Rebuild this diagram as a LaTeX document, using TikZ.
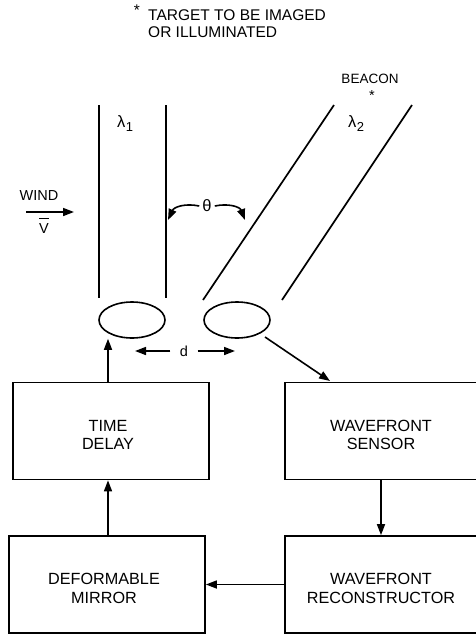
\documentclass[tikz,border=0pt]{standalone}
\usepackage{fontspec}
\setmainfont{Liberation Sans}
\usetikzlibrary{arrows.meta,shapes.geometric}
\newcommand{\lamsub}[1]{λ\hspace{0.5pt}\raisebox{-4pt}{\fontsize{13}{13}\selectfont #1}}
\begin{document}
\begin{tikzpicture}[x=1pt,y=-1pt,
  box/.style={draw,line width=1.7pt,minimum width=196pt,minimum height=97pt,inner sep=0pt},
  boxtext/.style={align=center,font=\fontsize{16.2}{18.7}\selectfont,inner sep=0pt},
  lens/.style={draw,ellipse,line width=1.6pt,minimum width=66pt,minimum height=36pt,inner sep=0pt},
  beam/.style={line width=1.7pt},
  arr/.style={line width=1.6pt,-{Triangle[length=11pt,width=8pt]}},
  lbl/.style={font=\fontsize{14.5}{16.7}\selectfont,inner sep=0pt},
  greek/.style={font=\fontsize{16.5}{18}\selectfont,inner sep=0pt},
  toplbl/.style={font=\fontsize{15.5}{17.5}\selectfont,inner sep=0pt}]
\useasboundingbox (0,0) rectangle (475,635);
% top note
\node[toplbl] (star) at (137,10) {*};
\node[toplbl,anchor=north west,align=left] (target) at (148,9) {TARGET TO BE IMAGED\\OR ILLUMINATED};
% beacon
\node[font=\fontsize{13.5}{16}\selectfont,inner sep=0pt] (beacon) at (370,79) {BEACON};
\node[lbl] (bstar) at (372,96) {*};
% beams
\draw[beam] (99,105) -- (99,298);
\draw[beam] (166,105) -- (166,298);
\draw[beam] (334,105) -- (203,300);
\draw[beam] (412,105) -- (282,300);
\node[greek] (l1) at (125,124) {\lamsub{1}};
\node[greek] (l2) at (356,124) {\lamsub{2}};
% theta
\node[greek,inner sep=3pt] (th) at (207,206) {θ};
\coordinate (thl) at (168,220);
\coordinate (thr) at (245,220);
\draw[arr] (th.west) .. controls (185,203) and (174,207) .. (thl);
\draw[arr] (th.east) .. controls (229,203) and (240,207) .. (thr);
% wind
\node[lbl] (wind) at (39,196) {WIND};
\coordinate (w1) at (26,212);
\coordinate (w2) at (74,212);
\draw[arr] (w1) -- (w2);
\node[lbl,anchor=base] (v) at (44,233) {$\overline{\rule{0pt}{13pt}\mbox{V}}$};
% lenses
\node[lens] (L) at (132,320) {};
\node[lens] (R) at (237,320) {};
% d
\node[lbl,inner sep=0pt,minimum width=27pt] (d) at (184,351) {d};
\coordinate (dl) at (135,351);
\coordinate (dr) at (235,351);
\draw[arr] (d.west) -- (dl);
\draw[arr] (d.east) -- (dr);
% boxes
\node[box] (TD) at (111,431) {};
\node[box,minimum width=192pt] (WS) at (381,431) {};
\node[box] (DM) at (107,584.5) {};
\node[box,minimum width=192pt] (WR) at (381,584.5) {};
\node[boxtext] (TDt) at (108,435) {TIME\\DELAY};
\node[boxtext] (WSt) at (381,435) {WAVEFRONT\\SENSOR};
\node[boxtext] (DMt) at (104,588.5) {DEFORMABLE\\MIRROR};
\node[boxtext] (WRt) at (381,588.5) {WAVEFRONT\\RECONSTRUCTOR};
% connectors
\coordinate (rs) at (265,337);
\coordinate (wsin) at (330,381);
\draw[arr] (rs) -- (wsin);
\draw[arr] (TD.north -| DM.north) ++(1,0) coordinate (tdn) -- (tdn |- L.south);
\draw[arr] (DM.north) ++(1,0) coordinate (dmn) -- (dmn |- TD.south);
\draw[arr] (WS.south) -- (WR.north);
\draw[arr] (WR.west) -- (DM.east);
\end{tikzpicture}
\end{document}
